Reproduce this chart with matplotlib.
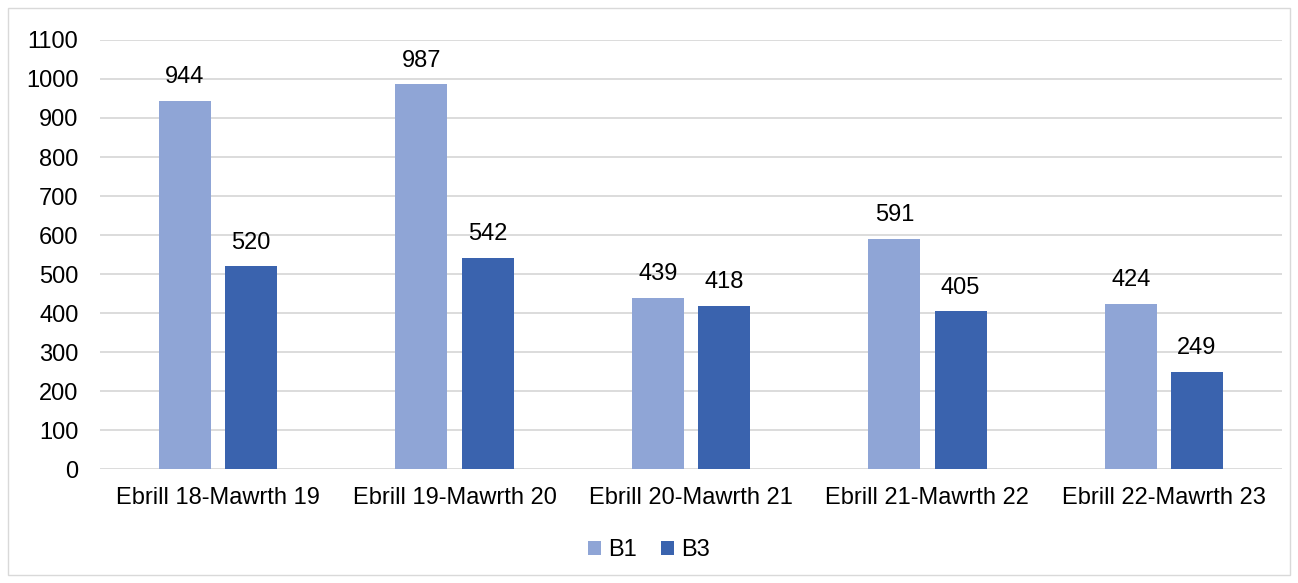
import numpy as np
import matplotlib.pyplot as plt
from matplotlib.patches import Rectangle

# data
categories = ['Ebrill 18-Mawrth 19', 'Ebrill 19-Mawrth 20', 'Ebrill 20-Mawrth 21',
              'Ebrill 21-Mawrth 22', 'Ebrill 22-Mawrth 23']
b1 = [944, 987, 439, 591, 424]
b3 = [520, 542, 418, 405, 249]

plt.rcParams['font.family'] = ['Liberation Sans', 'DejaVu Sans']
fs = 17

fig = plt.figure(figsize=(12.98, 5.83), dpi=100)
ax = fig.add_axes([0.077, 0.1955, 0.9107, 0.7359])

# bingkai luar
fig.patches.append(Rectangle((8/1298, 8/583), 1282/1298, 567/583, transform=fig.transFigure,
                             fill=False, edgecolor='#D9D9D9', linewidth=1))

x = np.arange(len(categories))
w = 0.22
off = 0.14
r1 = ax.bar(x - off, b1, w, color='#8FA5D6', label='B1', zorder=3)
r3 = ax.bar(x + off, b3, w, color='#3A63AE', label='B3', zorder=3)

for rects in (r1, r3):
    for r in rects:
        ax.annotate(str(int(r.get_height())), (r.get_x() + r.get_width()/2, r.get_height()),
                    xytext=(0, 9), textcoords='offset points',
                    ha='center', va='bottom', fontsize=fs, color='#000000')

ax.set_xlim(-0.5, len(categories) - 0.5)
ax.set_ylim(0, 1100)
ax.set_yticks(range(0, 1101, 100))
ax.set_xticks(x)
ax.set_xticklabels(categories)
ax.tick_params(axis='both', length=0, labelsize=fs, colors='#000000')
ax.tick_params(axis='y', pad=15.5)
ax.tick_params(axis='x', pad=13)
ax.yaxis.grid(True, color='#D9D9D9', linewidth=1.3, zorder=0)
for s in ax.spines.values():
    s.set_visible(False)

fig.legend(loc='center', bbox_to_anchor=(0.5, 1 - 550/583), ncol=2, frameon=False,
           fontsize=fs, handlelength=0.55, handleheight=0.55, handletextpad=0.3, columnspacing=1.0)

plt.savefig('out.png', dpi=100)
